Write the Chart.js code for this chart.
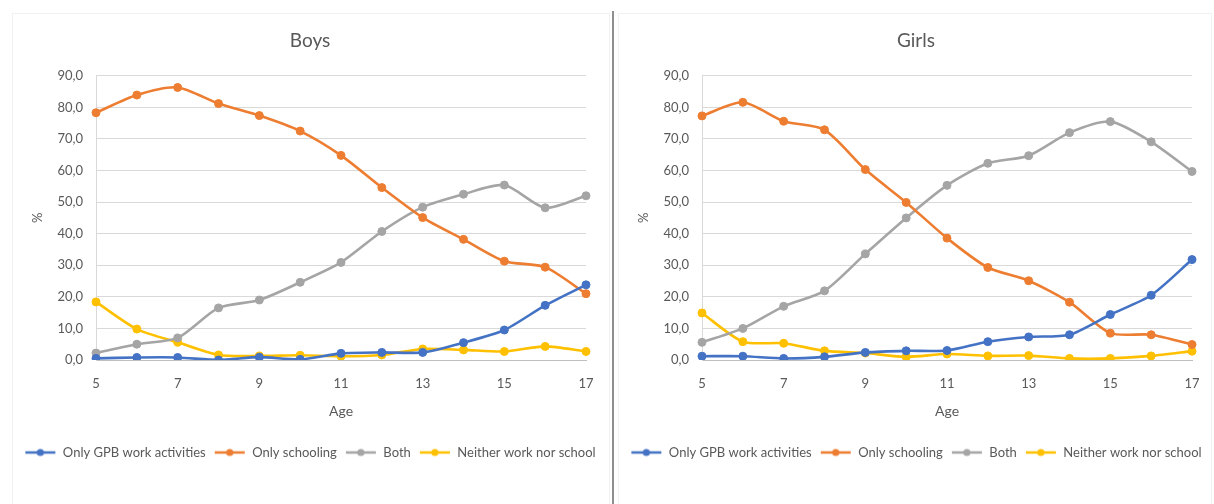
<!DOCTYPE html>
<html>
<head>
<meta charset="utf-8">
<script src="https://cdn.jsdelivr.net/npm/chart.js@4.4.0/dist/chart.umd.min.js"></script>
<style>
  html, body { margin: 0; padding: 0; background: #ffffff; }
  body { width: 1214px; height: 504px; overflow: hidden; position: relative; }
  .box { position: absolute; top: 0; width: 620px; height: 504px; }
  #boxL { left: 0; }
  #boxR { left: 606px; }
  .frame { position: absolute; border: 1px solid #f1f1f1; }
  #divider { position: absolute; left: 612px; top: 11px; width: 2px; height: 493px; background: #8f8f8f; z-index: 5; }
</style>
</head>
<body>
<div class="frame" style="left:12px;top:13px;width:596px;height:490px;"></div>
<div class="frame" style="left:618px;top:13px;width:592px;height:490px;"></div>
<div class="box" id="boxL"><canvas id="chartL"></canvas></div>
<div class="box" id="boxR"><canvas id="chartR"></canvas></div>
<div id="divider"></div>
<script>
// ---- Data ----
const ages = ['5','6','7','8','9','10','11','12','13','14','15','16','17'];
const seriesNames = ['Only GPB work activities', 'Only schooling', 'Both', 'Neither work nor school'];
const yTicks = [0, 10, 20, 30, 40, 50, 60, 70, 80, 90];

const boysWork    = [0.5, 0.8, 0.8, 0.0, 0.9, 0.2, 2.1, 2.4, 2.4, 5.5, 9.5, 17.3, 23.8];
const boysSchool  = [78.3, 83.9, 86.3, 81.2, 77.4, 72.5, 64.8, 54.6, 45.1, 38.2, 31.3, 29.4, 21.0];
const boysBoth    = [2.2, 5.0, 7.0, 16.5, 19.0, 24.6, 30.9, 40.7, 48.4, 52.5, 55.4, 48.2, 52.0];
const boysNeither = [18.4, 9.8, 5.6, 1.6, 1.3, 1.5, 1.2, 1.6, 3.5, 3.2, 2.7, 4.3, 2.7];

const girlsWork    = [1.2, 1.2, 0.5, 1.0, 2.4, 2.9, 3.0, 5.8, 7.3, 8.0, 14.4, 20.5, 31.8];
const girlsSchool  = [77.3, 81.6, 75.6, 72.9, 60.3, 49.9, 38.6, 29.3, 25.1, 18.3, 8.5, 8.0, 4.9];
const girlsBoth    = [5.6, 10.0, 17.0, 21.9, 33.6, 45.0, 55.3, 62.3, 64.7, 72.0, 75.5, 69.1, 59.7];
const girlsNeither = [14.9, 5.8, 5.3, 2.9, 2.2, 1.0, 1.9, 1.3, 1.4, 0.5, 0.5, 1.3, 2.8];

// ---- Styles ----
const colors = ['#4472C4', '#ED7D31', '#A5A5A5', '#FFC000'];
const textColor = '#595959';
const fontFamily = 'Lato, "Open Sans", sans-serif';

function legendMarker(color) {
  const c = document.createElement('canvas');
  c.width = 32; c.height = 10;
  const g = c.getContext('2d');
  g.strokeStyle = color; g.lineWidth = 2.5;
  g.beginPath(); g.moveTo(1, 5); g.lineTo(31, 5); g.stroke();
  g.fillStyle = color;
  g.beginPath(); g.arc(16, 5, 3.6, 0, Math.PI * 2); g.fill();
  return c;
}
const markers = colors.map(legendMarker);

function makeChart(canvasId, title, dataArrays) {
  const datasets = dataArrays.map((arr, i) => ({
    label: seriesNames[i],
    data: arr,
    yAxisID: 'y',
    borderColor: colors[i],
    backgroundColor: colors[i],
    pointBackgroundColor: colors[i],
    pointBorderColor: colors[i],
    borderWidth: 2.6,
    pointRadius: 4,
    pointBorderWidth: 1,
    tension: 0.25,
    fill: false
  }));
  return new Chart(document.getElementById(canvasId), {
    type: 'line',
    data: { labels: ages, datasets },
    options: {
      responsive: true,
      maintainAspectRatio: false,
      animation: false,
      layout: { padding: { left: 10, right: 10, top: 0, bottom: 35 } },
      plugins: {
        title: {
          display: true, text: title, color: textColor,
          font: { family: fontFamily, size: 19, weight: 'normal' },
          padding: { top: 29, bottom: 24 }
        },
        legend: {
          position: 'bottom',
          labels: {
            color: textColor,
            font: { family: fontFamily, size: 13 },
            usePointStyle: true,
            pointStyleWidth: 32,
            boxHeight: 13,
            padding: 8,
            generateLabels: (chart) => chart.data.datasets.map((ds, i) => ({
              text: ds.label,
              fillStyle: colors[i],
              strokeStyle: colors[i],
              fontColor: textColor,
              pointStyle: markers[i],
              lineWidth: 0,
              hidden: false,
              datasetIndex: i
            }))
          }
        },
        tooltip: { enabled: false }
      },
      scales: {
        x: {
          type: 'category',
          offset: false,
          grid: { display: false, drawTicks: false },
          border: { display: true, color: '#bfbfbf', width: 1 },
          ticks: {
            color: textColor, font: { family: fontFamily, size: 13 },
            autoSkip: false, maxRotation: 0, padding: 16,
            callback: function (v, i) { return i % 2 === 0 ? ages[i] : ''; }
          },
          title: {
            display: true, text: 'Age', color: textColor,
            font: { family: fontFamily, size: 14 },
            padding: { top: 4, bottom: 18 }
          },
          afterFit: (s) => { s.height = 78; }
        },
        y: {
          position: 'left',
          min: 0, max: 90,
          afterBuildTicks: (s) => { s.ticks = yTicks.map(v => ({ value: v })); },
          grid: { color: '#d9d9d9', lineWidth: 1, drawTicks: false },
          border: { display: true, color: '#d9d9d9', width: 1 },
          ticks: {
            color: textColor, font: { family: fontFamily, size: 13 }, padding: 13,
            callback: (v) => v.toFixed(1).replace('.', ',')
          },
          title: {
            display: true, text: '%', color: textColor,
            font: { family: fontFamily, size: 13 },
            padding: { top: 20, bottom: 0 }
          },
          afterFit: (s) => { s.width = 86; }
        },
        yRight: {
          position: 'right',
          min: 0, max: 90,
          grid: { display: false, drawOnChartArea: false, drawTicks: false },
          border: { display: false },
          ticks: { display: false },
          afterFit: (s) => { s.width = 24; }
        }
      }
    }
  });
}

makeChart('chartL', 'Boys', [boysWork, boysSchool, boysBoth, boysNeither]);
makeChart('chartR', 'Girls', [girlsWork, girlsSchool, girlsBoth, girlsNeither]);
</script>
</body>
</html>
